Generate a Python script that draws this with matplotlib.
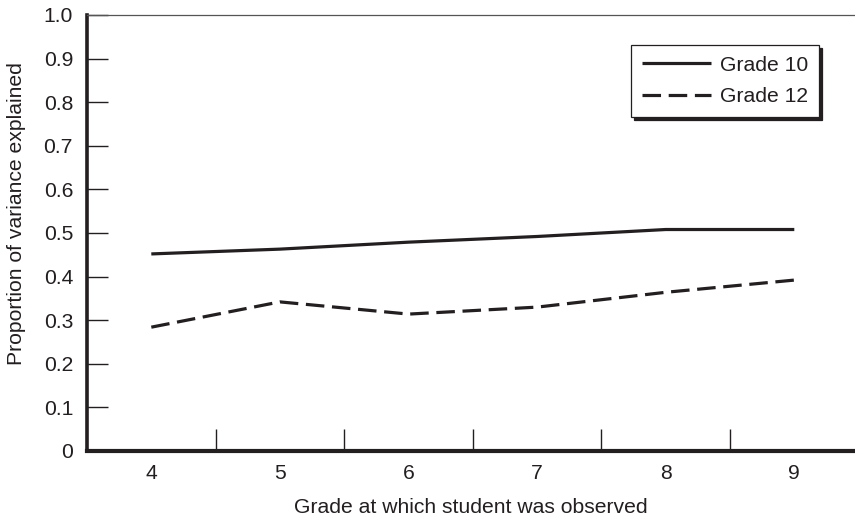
import matplotlib

matplotlib.use("Agg")
import matplotlib.pyplot as plt
import numpy as np

grades = [4, 5, 6, 7, 8, 9]
grade10 = [0.452, 0.463, 0.479, 0.492, 0.508, 0.508]
grade12 = [0.284, 0.342, 0.314, 0.330, 0.364, 0.392]
y_ticks = [0, 0.1, 0.2, 0.3, 0.4, 0.5, 0.6, 0.7, 0.8, 0.9, 1.0]
y_tick_labels = ["0", "0.1", "0.2", "0.3", "0.4", "0.5", "0.6", "0.7", "0.8", "0.9", "1.0"]

INK = "#231f20"
FS = 15.2
plt.rcParams["font.family"] = ["Liberation Sans", "DejaVu Sans"]

fig = plt.figure(figsize=(8.55, 5.2), dpi=100, facecolor="white")
ax = fig.add_axes([87 / 855, 69 / 520, 768 / 855, 436 / 520])

ax.plot(grades, grade10, color=INK, linewidth=2.3, label="Grade 10", solid_capstyle="butt")
ax.plot(grades, grade12, color=INK, linewidth=2.3, dashes=(5.8, 2.4), label="Grade 12",
        dash_capstyle="butt")

ax.set_xlim(3.5, 3.5 + 768 / 128.6)
ax.set_ylim(0, 1.0)

ax.set_yticks(y_ticks)
ax.set_yticklabels(y_tick_labels)
ax.set_xticks(grades)
ax.set_xticks(np.array(grades[:-1]) + 0.5, minor=True)

ax.tick_params(axis="y", direction="in", length=15, width=1.0, color=INK,
               labelsize=FS, pad=10, labelcolor=INK)
ax.tick_params(axis="x", which="major", length=0, labelsize=FS, pad=9.5, labelcolor=INK)
ax.tick_params(axis="x", which="minor", direction="in", length=16, width=1.0, color=INK)

ax.spines["right"].set_visible(False)
ax.spines["left"].set_linewidth(2.6)
ax.spines["left"].set_color(INK)
ax.spines["bottom"].set_linewidth(3.0)
ax.spines["bottom"].set_color(INK)
ax.spines["top"].set_linewidth(0.9)
ax.spines["top"].set_color("#555555")

ax.set_ylabel("Proportion of variance explained", fontsize=FS, color=INK)
ax.yaxis.set_label_coords(-0.079, 0.545)
ax.set_xlabel("Grade at which student was observed", fontsize=FS, color=INK, labelpad=11)

leg = ax.legend(loc="upper right", bbox_to_anchor=(0.953, 0.931), fontsize=FS,
                handlelength=3.3, handletextpad=0.42, borderpad=0.5, borderaxespad=0,
                labelspacing=0.6, fancybox=False, framealpha=1,
                shadow={"color": INK, "alpha": 1.0, "ox": 2.2, "oy": -2.2})
leg.get_frame().set_edgecolor(INK)
leg.get_frame().set_linewidth(0.9)
for text in leg.get_texts():
    text.set_color(INK)

fig.savefig("out.png", dpi=100)
